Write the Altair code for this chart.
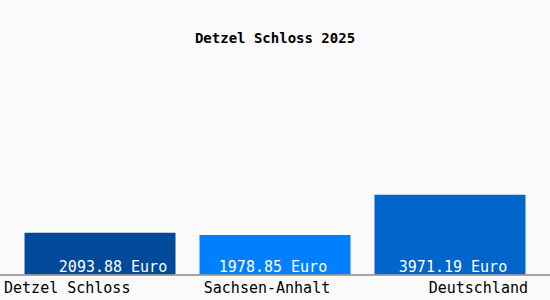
import altair as alt
import pandas as pd

categories = ["Detzel Schloss", "Sachsen-Anhalt", "Deutschland"]
values = [2093.88, 1978.85, 3971.19]
value_labels = ["2093.88 Euro", "1978.85 Euro", "3971.19 Euro"]
bar_colors = ["#004a99", "#0080ff", "#0066cc"]
title_text = "Detzel Schloss 2025"

df = pd.DataFrame({"cat": categories, "val": values, "lab": value_labels})

FONT = "DejaVu Sans Mono"

x_enc = alt.X("cat:N", sort=categories, axis=None,
              scale=alt.Scale(paddingInner=0.1371, paddingOuter=0.14))
y_scale = alt.Scale(domain=[0, 10650])

base = alt.Chart(df)

bars = base.mark_bar().encode(
    x=x_enc,
    y=alt.Y("val:Q", scale=y_scale, axis=None),
    color=alt.Color("cat:N", sort=categories,
                    scale=alt.Scale(domain=categories, range=bar_colors), legend=None),
)

def val_label(i, dx):
    return base.transform_filter(alt.datum.cat == categories[i]).mark_text(
        color="white", font=FONT, fontSize=15, baseline="alphabetic",
        align="center", dx=dx, dy=-3).encode(
        x=x_enc, y=alt.datum(0, scale=y_scale), text="lab:N")

vals = val_label(0, 13) + val_label(1, -2) + val_label(2, 3)

baseline = base.mark_rule(color="#999999", strokeWidth=1).encode(
    y=alt.datum(0, scale=y_scale))

def cat_label(i, align, dx):
    return base.transform_filter(alt.datum.cat == categories[i]).mark_text(
        font=FONT, fontSize=15, color="black", baseline="alphabetic",
        align=align, dx=dx, dy=18).encode(
        x=x_enc, y=alt.datum(0, scale=y_scale), text="cat:N")

labels = cat_label(0, "left", -96) + cat_label(1, "center", -8) + cat_label(2, "right", 78)

chart = alt.layer(bars, vals, baseline, labels).properties(
    width=550, height=215,
    title=alt.Title(title_text, font=FONT, fontSize=14, fontWeight="bold",
                    color="black", anchor="middle", offset=14),
    padding={"left": 0, "top": 60, "right": 0, "bottom": 25},
    autosize=alt.AutoSizeParams(type="none"),
    background="#fafafa",
).configure_view(stroke=None)

chart.save("out.html", embed_options={"renderer": "svg", "actions": False})
